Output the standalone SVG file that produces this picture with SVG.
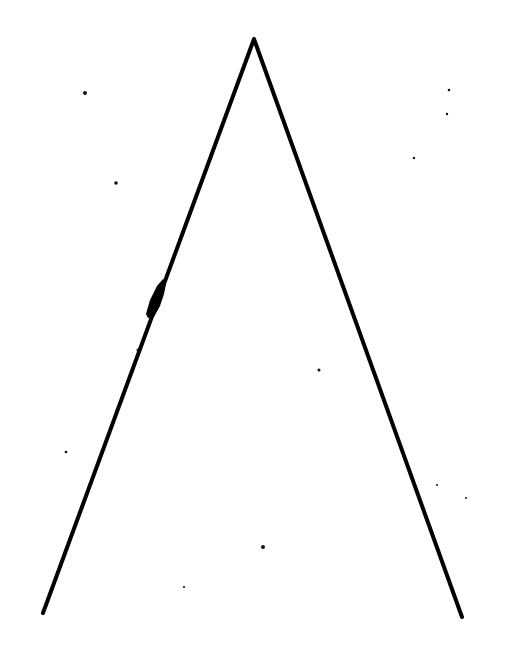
<svg xmlns="http://www.w3.org/2000/svg" width="507" height="649" viewBox="0 0 507 649">
<style>.leg{fill:none;stroke:#000;stroke-width:4;stroke-linecap:round;stroke-linejoin:round}.dot{fill:#111}</style>
<rect width="507" height="649" fill="#fff"/>
<g id="shape">
<polyline class="leg" points="43,613 254,39 462,617"/>
<path d="M146,314 L150,300 L157,286 L163,279 L166,284 L164,294 L160,306 L154,317 L148,318 Z" fill="#000"/>
</g>
<g id="specks">
<circle class="dot" cx="85" cy="93" r="2"/>
<circle class="dot" cx="116" cy="183" r="1.8"/>
<circle class="dot" cx="449" cy="90" r="1.3"/>
<circle class="dot" cx="447" cy="114" r="1.2"/>
<circle class="dot" cx="414" cy="158" r="1.2"/>
<circle class="dot" cx="319" cy="370" r="1.5"/>
<circle class="dot" cx="66" cy="452" r="1.3"/>
<circle class="dot" cx="263" cy="547" r="2"/>
<circle class="dot" cx="184" cy="587" r="1.1"/>
<circle class="dot" cx="437" cy="485" r="1"/>
<circle class="dot" cx="466" cy="498" r="1"/>
<circle class="dot" cx="138" cy="350" r="1.5"/>
</g>
</svg>
